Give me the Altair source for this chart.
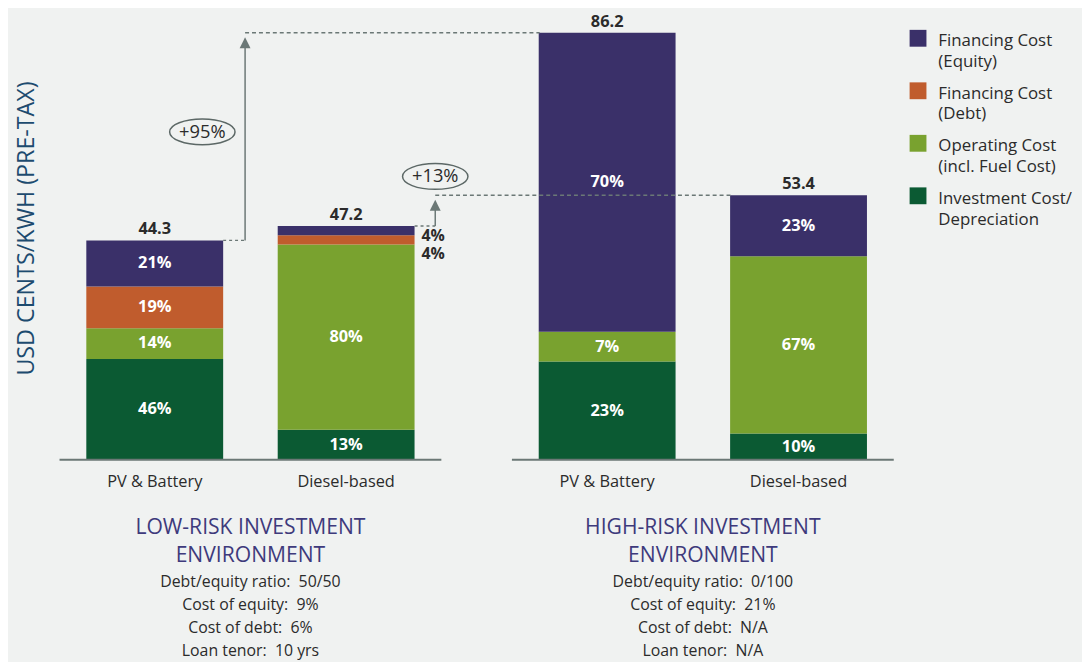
import altair as alt
import pandas as pd

# ---------------- data ----------------
groups = ["low", "high"]
group_titles = ["LOW-RISK INVESTMENT\nENVIRONMENT", "HIGH-RISK INVESTMENT\nENVIRONMENT"]
NB = "\u00a0"
group_params = [
    f"Debt/equity ratio:{NB} 50/50\nCost of equity:{NB} 9%\nCost of debt:{NB} 6%\nLoan tenor:{NB} 10 yrs",
    f"Debt/equity ratio:{NB} 0/100\nCost of equity:{NB} 21%\nCost of debt:{NB} N/A\nLoan tenor:{NB} N/A",
]
techs = ["PV & Battery", "Diesel-based"]
components = [
    "Financing Cost\n(Equity)",
    "Financing Cost\n(Debt)",
    "Operating Cost\n(incl. Fuel Cost)",
    "Investment Cost/\nDepreciation",
]
colors = ["#3a3069", "#c05c2d", "#79a22f", "#0b5a33"]

bar_group = ["low", "low", "high", "high"]
bar_tech = ["PV & Battery", "Diesel-based", "PV & Battery", "Diesel-based"]
totals = [44.3, 47.2, 86.2, 53.4]
share_equity = [21, 4, 70, 23]
share_debt = [19, 4, 0, 0]
share_operating = [14, 80, 7, 67]
share_investment = [46, 13, 23, 10]

inc_from = [44.3, 47.2]
inc_to = [86.2, 53.4]
inc_label = ["+95%", "+13%"]

YTITLE = "USD CENTS/KWH (PRE-TAX)"
FONT = "Open Sans"
GRAY = "#6b7876"
DARK = "#2b2b2b"

# ---------------- tables ----------------
shares = [share_equity, share_debt, share_operating, share_investment]
rows = []
for i in range(len(totals)):
    s = [sh[i] for sh in shares]
    ssum = sum(s)
    base = 0.0
    for k in [3, 2, 1, 0]:
        if s[k] == 0:
            continue
        v = totals[i] * s[k] / ssum
        rows.append(dict(group=bar_group[i], tech=bar_tech[i], comp=components[k],
                         order=3 - k, value=v, mid=base + v / 2, pct=f"{s[k]}%",
                         inside=s[k] >= 5, rank=k))
        base += v
bars_df = pd.DataFrame(rows)

tot_df = pd.DataFrame(dict(group=bar_group, tech=bar_tech, total=totals,
                           label=[f"{t:.1f}" for t in totals], zero=[0] * 4))
grp_df = pd.DataFrame(dict(group=groups, title=group_titles, params=group_params, zero=[0, 0]))
ann_df = pd.DataFrame(dict(g_from=["low", "low"], g_to=["high", "high"],
                           y_from=inc_from, y_to=inc_to, label=inc_label))

W, H = 842, 431
yscale = alt.Scale(domain=[0, 86.2], nice=False, zero=True)
xscale = alt.Scale(domain=groups, paddingInner=0.156, paddingOuter=0)
xoscale = alt.Scale(domain=techs, paddingInner=0.285, paddingOuter=0.14)


def Y(f, **kw):
    return alt.Y(f"{f}:Q", scale=yscale, title=YTITLE, **kw)


def X(f, bp=None):
    if bp is None:
        return alt.X(f"{f}:N", scale=xscale, axis=None)
    return alt.X(f"{f}:N", scale=xscale, axis=None, bandPosition=bp)


XO = alt.XOffset("tech:N", scale=xoscale)

# square drawn above its anchor so the first label line sits beside it
LEG_SQ = "M-1,-1.94L1,-1.94L1,0.06L-1,0.06Z"

bars = alt.Chart(bars_df).mark_bar().encode(
    x=X("group"),
    xOffset=XO,
    y=Y("value", stack="zero"),
    color=alt.Color("comp:N", scale=alt.Scale(domain=components, range=colors),
                    legend=alt.Legend(title=None, orient="right", symbolType=LEG_SQ,
                                      symbolSize=289, symbolStrokeWidth=0,
                                      labelFont=FONT, labelFontSize=17, labelColor=DARK,
                                      labelExpr="split(datum.label, '\\n')",
                                      labelBaseline="alphabetic", labelOffset=12, labelLimit=300,
                                      rowPadding=12, offset=11, padding=5)),
    order=alt.Order("order:Q", sort="ascending"),
)

base_line = alt.Chart(grp_df).mark_rect(fill=GRAY, stroke=GRAY, strokeWidth=2).encode(
    x=X("group"), y=Y("zero"), y2="zero"
)

inside = alt.Chart(bars_df).transform_filter("datum.inside").mark_text(
    font=FONT, fontSize=16.5, fontWeight="bold", color="white", baseline="middle"
).encode(x=X("group"), xOffset=XO, y=Y("mid"), text="pct:N")

out_eq = alt.Chart(bars_df).transform_filter("!datum.inside && datum.rank == 0").mark_text(
    font=FONT, fontSize=16, fontWeight="bold", color=DARK, baseline="middle",
    align="left", dx=76, dy=5
).encode(x=X("group"), xOffset=XO, y=Y("mid"), text="pct:N")

out_debt = alt.Chart(bars_df).transform_filter("!datum.inside && datum.rank == 1").mark_text(
    font=FONT, fontSize=16, fontWeight="bold", color=DARK, baseline="middle",
    align="left", dx=76, dy=14
).encode(x=X("group"), xOffset=XO, y=Y("mid"), text="pct:N")

tot_text = alt.Chart(tot_df).mark_text(
    font=FONT, fontSize=16.5, fontWeight="bold", color=DARK, baseline="bottom", dy=-3
).encode(x=X("group"), xOffset=XO, y=Y("total"), text="label:N")

tech_text = alt.Chart(tot_df).mark_text(
    font=FONT, fontSize=16.5, color=DARK, baseline="alphabetic", dy=27
).encode(x=X("group"), xOffset=XO, y=Y("zero"), text="tech:N")

title_text = alt.Chart(grp_df).mark_text(
    font=FONT, fontSize=21.3, color="#3e3a7c", baseline="alphabetic", dy=75,
    lineBreak="\n", lineHeight=28
).encode(x=X("group"), y=Y("zero"), text="title:N")

param_text = alt.Chart(grp_df).mark_text(
    font=FONT, fontSize=16, color=DARK, baseline="alphabetic", dy=128,
    lineBreak="\n", lineHeight=23.3
).encode(x=X("group"), y=Y("zero"), text="params:N")

TRI = "M0,-1L1,1L-1,1Z"
ELL = ("M-1,0C-1,-0.2176,-0.5523,-0.394,0,-0.394C0.5523,-0.394,1,-0.2176,1,0"
       "C1,0.2176,0.5523,0.394,0,0.394C-0.5523,0.394,-1,0.2176,-1,0Z")


def connector(i, bp_src, bp_arrow, bp_dst, bp_lab, lab_dy):
    d = alt.Chart(ann_df.iloc[[i]])
    dotted = d.mark_rule(color=GRAY, strokeWidth=1.5, strokeDash=[3, 3]).encode(
        x=X("g_from", bp_src), x2=alt.X2("g_from", bandPosition=bp_arrow), y=Y("y_from"))
    shaft = d.mark_rule(color=GRAY, strokeWidth=1.5, y2Offset=10).encode(
        x=X("g_from", bp_arrow), y=Y("y_from"), y2="y_to")
    head = d.mark_point(shape=TRI, size=121, filled=True, opacity=1, color=GRAY, yOffset=10).encode(
        x=X("g_from", bp_arrow), y=Y("y_to"))
    dashed = d.mark_rule(color=GRAY, strokeWidth=1.5, strokeDash=[4, 3]).encode(
        x=X("g_from", bp_arrow), x2=alt.X2("g_to", bandPosition=bp_dst), y=Y("y_to"))
    ell = d.mark_point(shape=ELL, size=4356, filled=False, opacity=1, color="#5c6866",
                       strokeWidth=1.5, yOffset=lab_dy).encode(x=X("g_from", bp_lab), y=Y("y_to"))
    lab = d.mark_text(font=FONT, fontSize=18.5, color=DARK, baseline="middle", dy=lab_dy).encode(
        x=X("g_from", bp_lab), y=Y("y_to"), text="label:N")
    return [dotted, shaft, head, dashed, ell, lab]


ann1 = connector(0, 0.4286, 0.486, 0.0727, 0.374, 100)
ann2 = connector(1, 0.930, 0.984, 0.574, 0.984, -19)

chart = alt.layer(
    bars, base_line, inside, out_eq, out_debt, tot_text, tech_text, title_text, param_text,
    *ann1, *ann2
).properties(
    width=W, height=H, padding={"left": 7, "top": 3, "right": 5, "bottom": 0},
    background="#f0f2f1"
).configure(
    style={"guide-label": {"lineHeight": 21}}
).configure_view(stroke=None).configure_axisY(
    labels=False, ticks=False, domain=False, grid=False,
    titleFont=FONT, titleFontSize=23.5, titleFontWeight="normal", titleColor="#1d4b6f",
    titlePadding=21, titleY=197
)

chart.save("out.html", embed_options={"renderer": "svg", "actions": False})
